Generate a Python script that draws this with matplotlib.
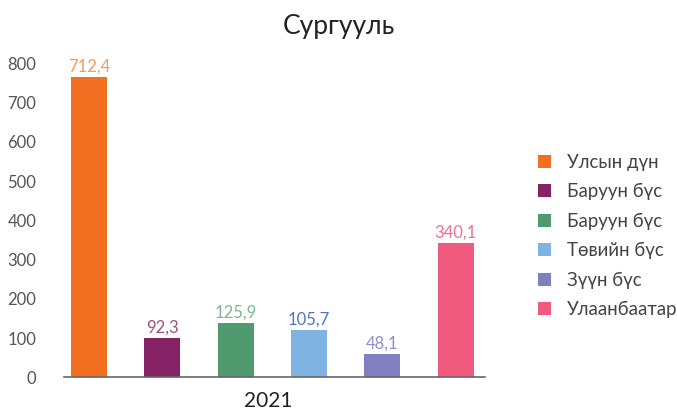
import matplotlib
matplotlib.use('Agg')
import matplotlib.pyplot as plt

plt.rcParams['font.family'] = ['Lato', 'Noto Sans', 'DejaVu Sans']

# data
regions = ['Улсын дүн', 'Баруун бүс', 'Баруун бүс', 'Төвийн бүс', 'Зүүн бүс', 'Улаанбаатар']
heights = [765, 100, 138, 120, 60, 342]          # drawn bar heights
value_labels = ['712,4', '92,3', '125,9', '105,7', '48,1', '340,1']
year = '2021'

bar_colors = ['#F36F21', '#862165', '#4F9A6E', '#7EB3E2', '#8080C0', '#F05A7E']
text_colors = ['#F59A5E', '#A0507F', '#7DB88F', '#4F76C0', '#8F8FCF', '#F07090']

fig = plt.figure(figsize=(6.77, 4.12), dpi=100)
ax = fig.add_axes([0.0945, 0.0842, 0.622, 0.762])

x = list(range(len(regions)))
bars = ax.bar(x, heights, width=0.49, color=bar_colors)

for xi, h, lab, c in zip(x, heights, value_labels, text_colors):
    ax.text(xi, h + 6, lab, ha='center', va='bottom', color=c, fontsize=12)

ax.set_xlim(-0.34, 5.4)
ax.set_ylim(0, 800)
ax.set_yticks(range(0, 801, 100))
ax.tick_params(axis='y', length=0, pad=20, labelsize=12, labelcolor='#555555')
ax.set_xticks([])
for s in ['top', 'right', 'left']:
    ax.spines[s].set_visible(False)
ax.spines['bottom'].set_color('#666666')
ax.spines['bottom'].set_linewidth(1.2)

ax.set_xlabel(year, fontsize=15, color='#222222')
ax.xaxis.set_label_coords(0.485, -0.045)
fig.text(0.5, 0.935, 'Сургууль', ha='center', va='center', fontsize=19, color='#222222')

leg = fig.legend(handles=list(bars), labels=regions, loc='center left',
                 bbox_to_anchor=(0.795, 0.427), frameon=False, fontsize=13.4,
                 borderpad=0, borderaxespad=0,
                 handlelength=0.7, handleheight=0.7, labelspacing=0.66,
                 handletextpad=0.86, labelcolor='#444444')

fig.savefig('out.png', dpi=100)
